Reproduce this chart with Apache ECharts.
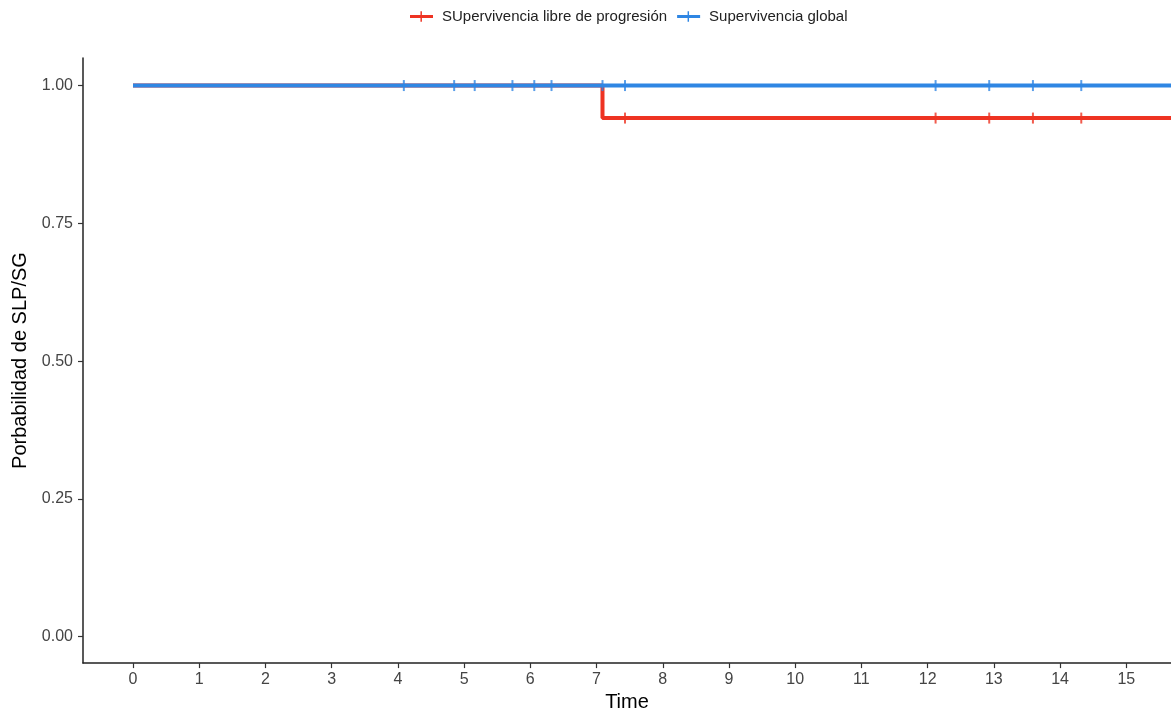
<!DOCTYPE html>
<html>
<head>
<meta charset="utf-8">
<script src="https://cdn.jsdelivr.net/npm/echarts@6/dist/echarts.min.js"></script>
<style>html,body{margin:0;padding:0;background:#fff}#c{width:1171px;height:717px}</style>
</head>
<body>
<div id="c"></div>
<script>
var seriesNames = ['SUpervivencia libre de progresión', 'Supervivencia global'];
var slpCurve = [[0, 1], [7.09, 1], [7.09, 0.941], [16.0, 0.941]];
var sgCurve = [[0, 1], [16.0, 1]];
var slpCensor = [[7.43, 0.941], [12.12, 0.941], [12.93, 0.941], [13.59, 0.941], [14.32, 0.941]];
var sgCensor = [[4.09, 1], [4.85, 1], [5.16, 1], [5.73, 1], [6.06, 1], [6.32, 1], [7.09, 1], [7.43, 1], [12.12, 1], [12.93, 1], [13.59, 1], [14.32, 1]];
var xTicks = [0, 1, 2, 3, 4, 5, 6, 7, 8, 9, 10, 11, 12, 13, 14, 15];
var yTicks = [0, 0.25, 0.5, 0.75, 1];

var red = '#EE3322', blue = '#2F86E3';
var plusPath = 'path://M0,3.6 L10,3.6 L10,0 L11.4,0 L11.4,3.6 L22,3.6 L22,6.4 L11.4,6.4 L11.4,10 L10,10 L10,6.4 L0,6.4 Z';
var tickPath = 'path://M0,0 L2,0 L2,10 L0,10 Z';

var chart = echarts.init(document.getElementById('c'), null, {renderer: 'canvas'});
chart.setOption({
  animation: false,
  backgroundColor: '#fff',
  legend: {
    top: 4, left: 405,
    itemWidth: 23, itemHeight: 11, itemGap: 10,
    textStyle: {fontFamily: 'Liberation Sans, Arial', fontSize: 15, color: '#222', padding: [0, 0, 0, 4]},
    data: [
      {name: seriesNames[0], icon: plusPath, itemStyle: {color: red}},
      {name: seriesNames[1], icon: plusPath, itemStyle: {color: blue}}
    ]
  },
  grid: {left: 83, right: 0, top: 58, bottom: 53, containLabel: false},
  xAxis: {
    type: 'value', min: -0.755, max: 15.675,
    name: 'Time', nameLocation: 'middle', nameGap: 28,
    nameTextStyle: {fontFamily: 'Liberation Sans, Arial', fontSize: 20, color: '#000'},
    axisLine: {show: true, onZero: false, lineStyle: {color: '#222', width: 1.5}},
    axisTick: {show: true, length: 5, lineStyle: {color: '#333', width: 1.2},
      customValues: xTicks},
    axisLabel: {fontFamily: 'Liberation Sans, Arial', fontSize: 16, color: '#444', margin: 8,
      customValues: xTicks},
    splitLine: {show: false}
  },
  yAxis: {
    type: 'value', min: -0.048, max: 1.05,
    name: 'Porbabilidad de SLP/SG', nameLocation: 'middle', nameGap: 50,
    nameTextStyle: {fontFamily: 'Liberation Sans, Arial', fontSize: 20, color: '#000'},
    axisLine: {show: true, onZero: false, lineStyle: {color: '#222', width: 1.5}},
    axisTick: {show: true, length: 5, lineStyle: {color: '#333', width: 1.2},
      customValues: yTicks},
    axisLabel: {fontFamily: 'Liberation Sans, Arial', fontSize: 16, color: '#444', margin: 10,
      customValues: yTicks,
      formatter: function (v) { return v.toFixed(2); }},
    splitLine: {show: false}
  },
  series: [
    {name: seriesNames[0], type: 'line', data: slpCurve, showSymbol: false, symbol: 'none',
      lineStyle: {color: red, width: 4}, itemStyle: {color: red}, z: 2, clip: true},
    {name: seriesNames[0], type: 'scatter', data: slpCensor, symbol: tickPath, symbolSize: [2, 11],
      itemStyle: {color: red}, z: 3},
    {name: seriesNames[1], type: 'line', data: sgCurve, showSymbol: false, symbol: 'none',
      lineStyle: {color: blue, width: 4}, itemStyle: {color: blue}, z: 4, clip: true},
    {name: seriesNames[1], type: 'scatter', data: sgCensor, symbol: tickPath, symbolSize: [2, 11],
      itemStyle: {color: blue}, z: 5}
  ]
});
</script>
</body>
</html>
